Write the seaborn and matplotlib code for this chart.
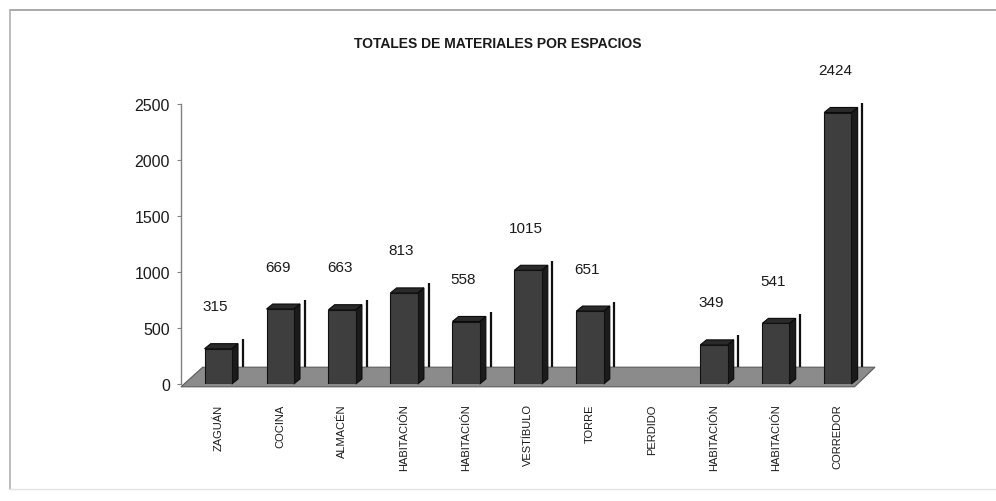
import numpy as np
import pandas as pd
import matplotlib
matplotlib.use("Agg")
import matplotlib.pyplot as plt
import seaborn as sns
from matplotlib.patches import Polygon
from matplotlib.lines import Line2D

# Data
espacios = ["ZAGUÁN", "COCINA", "ALMACÉN", "HABITACIÓN", "HABITACIÓN",
            "VESTÍBULO", "TORRE", "PERDIDO", "HABITACIÓN", "HABITACIÓN",
            "CORREDOR"]
totales = [315, 669, 663, 813, 558, 1015, 651, np.nan, 349, 541, 2424]
yticks = [0, 500, 1000, 1500, 2000, 2500]
titulo = "TOTALES DE MATERIALES POR ESPACIOS"

sns.set_theme(style="white")
plt.rcParams["font.family"] = ["Liberation Sans", "DejaVu Sans"]

df = pd.DataFrame({"pos": list(range(len(espacios))), "total": totales})

fig = plt.figure(figsize=(9.96, 5.02), dpi=100)
fig.patch.set_facecolor("white")
ax = fig.add_axes([181 / 996, 117 / 502, (875 - 181) / 996, 280 / 502])
ax.set_facecolor("none")

sns.barplot(data=df, x="pos", y="total", order=list(range(len(espacios))),
            width=0.44, color="#3e3e3e", saturation=1, edgecolor="#101010",
            linewidth=0.8, errorbar=None, ax=ax, zorder=4)

ax.set_xlim(-0.6, 10.6)
ax.set_ylim(0, 2500)

# 3D-style floor under the bars
floor = Polygon([(-0.6, -25), (10.27, -25), (10.6, 150), (-0.25, 150)],
                closed=True, facecolor="#8b8b8b", edgecolor="#5a5a5a",
                linewidth=0.8, zorder=2, clip_on=False)
ax.add_patch(floor)

# depth of each bar (category units, data units)
dx, dy = 0.1, 45
for p in ax.patches[:]:
    if p is floor:
        continue
    h = p.get_height()
    if not np.isfinite(h) or h <= 0:
        continue
    x0, w = p.get_x(), p.get_width()
    x1 = x0 + w
    side = Polygon([(x1, 0), (x1 + dx, dy), (x1 + dx, h + dy), (x1, h)],
                   closed=True, facecolor="#1b1b1b", edgecolor="#0a0a0a",
                   linewidth=0.8, zorder=3.5, clip_on=False)
    top = Polygon([(x0, h), (x0 + dx, h + dy), (x1 + dx, h + dy), (x1, h)],
                  closed=True, facecolor="#2a2a2a", edgecolor="#0a0a0a",
                  linewidth=0.8, zorder=3.5, clip_on=False)
    ax.add_patch(side)
    ax.add_patch(top)
    # thin shadow line beside each bar
    ax.vlines(x1 + dx + 0.075, 150, h + 85, color="#111111", linewidth=1.6,
              zorder=3, clip_on=False)
    ax.text(x0 + w / 2 - 0.04, h + 380, f"{int(h)}", ha="center",
            va="center", fontsize=11, color="#1a1a1a", clip_on=False)

# Axes styling
for s in ["top", "right", "bottom"]:
    ax.spines[s].set_visible(False)
ax.spines["left"].set_color("#808080")
ax.spines["left"].set_linewidth(1.0)
ax.set_yticks(yticks)
ax.set_yticklabels([str(v) for v in yticks], fontsize=11.5, color="#1a1a1a")
ax.tick_params(axis="y", left=True, length=3, width=0.8, color="#808080", pad=5)
ax.set_xticks(range(len(espacios)))
ax.set_xticklabels(espacios, rotation=90, fontsize=8, color="#1a1a1a", va="top")
ax.tick_params(axis="x", bottom=False, pad=8)
ax.set_xlabel("")
ax.set_ylabel("")
ax.grid(False)

fig.text(498 / 996, 1 - 44 / 502, titulo, ha="center", va="center",
         fontsize=10, fontweight="bold", color="#1a1a1a")

# outer frame
fig.add_artist(Line2D([10 / 996, 1.0], [1 - 11 / 502, 1 - 11 / 502],
                      color="#9a9a9a", linewidth=1.2))
fig.add_artist(Line2D([10 / 996, 10 / 996], [1 - 11 / 502, 1 - 490 / 502],
                      color="#b0b0b0", linewidth=1.2))
fig.add_artist(Line2D([10 / 996, 1.0], [1 - 490 / 502, 1 - 490 / 502],
                      color="#e4e4e4", linewidth=1.0))

fig.savefig("out.png", dpi=100, facecolor="white")
